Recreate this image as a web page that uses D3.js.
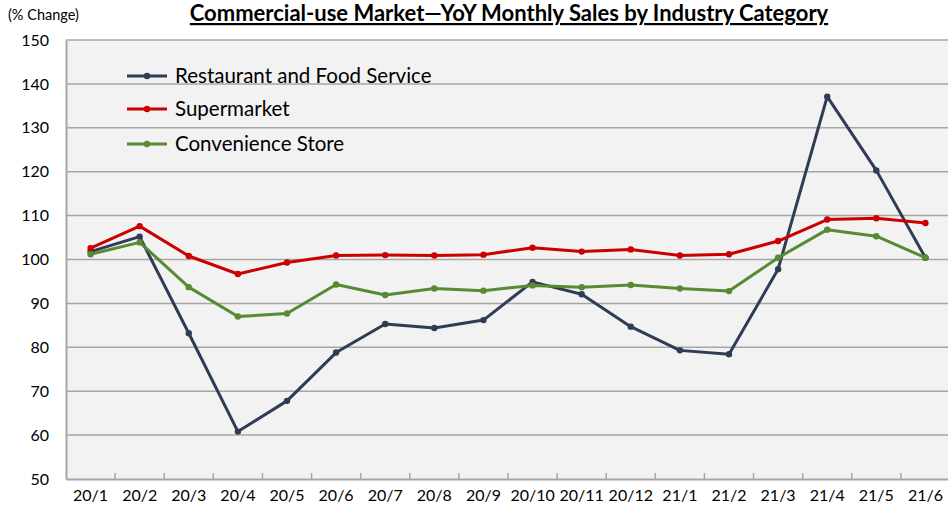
<!DOCTYPE html>
<html>
<head>
<meta charset="utf-8">
<script src="https://cdnjs.cloudflare.com/ajax/libs/d3/7.8.5/d3.min.js"></script>
<style>
  body { margin: 0; background: #fff; }
  svg { display: block; font-family: Lato, "Open Sans", sans-serif; }
</style>
</head>
<body>
<script>
// months on the x axis
var months = ["20/1","20/2","20/3","20/4","20/5","20/6","20/7","20/8","20/9",
  "20/10","20/11","20/12","21/1","21/2","21/3","21/4","21/5","21/6"];

// values (% YoY)
var restaurant = [101.8,105.2,83.2,60.8,67.8,78.8,85.3,84.4,86.2,94.9,92.1,84.7,79.3,78.4,97.8,137.1,120.3,100.4];
var supermarket = [102.6,107.6,100.8,96.7,99.3,100.9,101.0,100.9,101.1,102.7,101.8,102.3,100.9,101.2,104.2,109.1,109.4,108.3];
var convenience = [101.2,103.9,93.7,87.0,87.7,94.3,91.9,93.4,92.9,94.1,93.7,94.2,93.4,92.8,100.4,106.8,105.3,100.4];

var yTicks = [50,60,70,80,90,100,110,120,130,140,150];

var seriesNames = ["Restaurant and Food Service","Supermarket","Convenience Store"];
var seriesColors = ["#2f3c55","#cc0000","#578a33"];

var W = 948, H = 513;
var plotL = 66, plotR = 950, plotT = 40, plotB = 479;

var svg = d3.select("body").append("svg").attr("width", W).attr("height", H);

var x = d3.scaleBand().domain(months).range([plotL, plotR]);
var y = d3.scaleLinear().domain([50,150]).range([plotB, plotT]);

// plot background
svg.append("rect").attr("x", plotL).attr("y", plotT)
  .attr("width", plotR - plotL).attr("height", plotB - plotT)
  .attr("fill", "#f2f2f2");

// horizontal gridlines
svg.append("g").selectAll("line").data(yTicks.slice(1)).enter().append("line")
  .attr("x1", plotL).attr("x2", plotR)
  .attr("y1", function(d){ return y(d); }).attr("y2", function(d){ return y(d); })
  .attr("stroke", "#a6a6a6").attr("stroke-width", 1.5);

// y axis
var yAxis = svg.append("g").attr("transform", "translate(" + plotL + ",0)")
  .call(d3.axisLeft(y).tickValues(yTicks).tickSize(0).tickPadding(17));
yAxis.select(".domain").attr("stroke", "#a6a6a6").attr("stroke-width", 2);
yAxis.selectAll("text").attr("font-size", 16).attr("fill", "#000")
  .attr("font-family", "Lato, sans-serif");

// x axis with inside ticks at category boundaries
var xAxis = svg.append("g").attr("transform", "translate(0," + plotB + ")")
  .call(d3.axisBottom(x).tickSize(0).tickPadding(11));
xAxis.select(".domain").attr("stroke", "#a6a6a6").attr("stroke-width", 2);
xAxis.selectAll("text").attr("font-size", 16).attr("fill", "#000")
  .attr("font-family", "Lato, sans-serif");
svg.append("g").selectAll("line").data(months.slice(1)).enter().append("line")
  .attr("x1", function(d){ return x(d); }).attr("x2", function(d){ return x(d); })
  .attr("y1", plotB).attr("y2", plotB - 6)
  .attr("stroke", "#a6a6a6").attr("stroke-width", 1.5);

// lines
var allSeries = [restaurant, supermarket, convenience];
var line = d3.line()
  .x(function(d, i){ return x(months[i]) + x.bandwidth() / 2; })
  .y(function(d){ return y(d); });

allSeries.forEach(function(vals, k){
  svg.append("path").datum(vals)
    .attr("d", line).attr("fill", "none")
    .attr("stroke", seriesColors[k]).attr("stroke-width", 3)
    .attr("stroke-linejoin", "round");
  svg.append("g").selectAll("circle").data(vals).enter().append("circle")
    .attr("cx", function(d, i){ return x(months[i]) + x.bandwidth() / 2; })
    .attr("cy", function(d){ return y(d); })
    .attr("r", 3.2).attr("fill", seriesColors[k]);
});

// legend
var legendY = [76, 109, 144];
seriesNames.forEach(function(name, k){
  var g = svg.append("g");
  g.append("line").attr("x1", 127).attr("x2", 167)
    .attr("y1", legendY[k]).attr("y2", legendY[k])
    .attr("stroke", seriesColors[k]).attr("stroke-width", 3);
  g.append("circle").attr("cx", 147).attr("cy", legendY[k]).attr("r", 3.2)
    .attr("fill", seriesColors[k]);
  g.append("text").attr("x", 175).attr("y", legendY[k] + 7)
    .attr("font-size", 20.5).attr("fill", "#000").text(name);
});

// y axis unit
svg.append("text").attr("x", 8).attr("y", 20).attr("font-size", 14.5)
  .attr("fill", "#000").text("(% Change)");

// title
svg.append("text").attr("x", 509).attr("y", 21).attr("text-anchor", "middle")
  .attr("font-size", 22).attr("font-weight", "bold")
  .attr("text-decoration", "underline").attr("fill", "#000")
  .text("Commercial-use Market\u2014YoY Monthly Sales by Industry Category");
</script>
</body>
</html>
